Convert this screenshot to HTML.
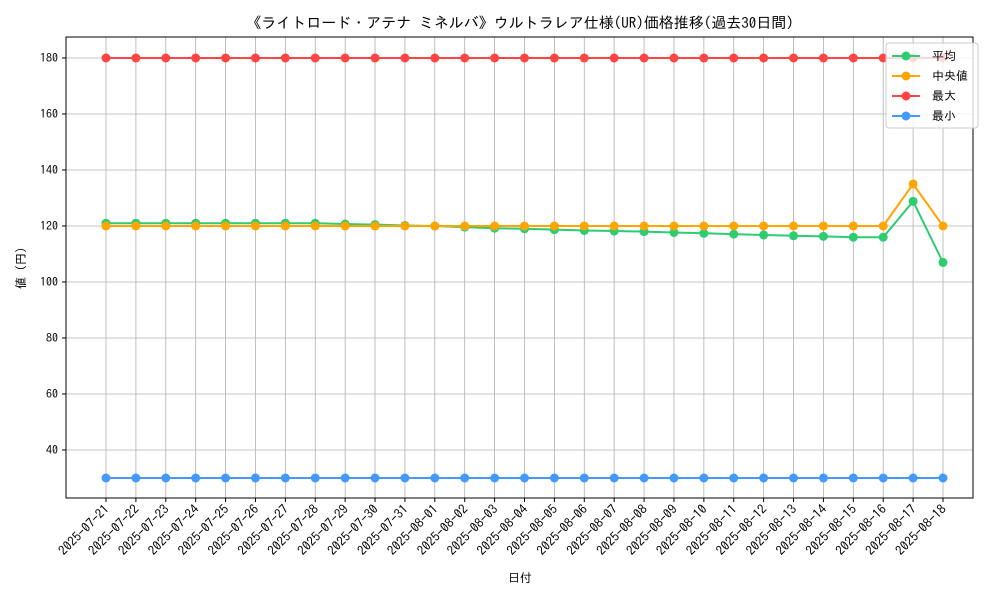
<!DOCTYPE html>
<html><head><meta charset="utf-8"><style>
body{margin:0;background:#fff;font-family:"IPAGothic","Noto Sans CJK JP",sans-serif;}
svg text{font-family:"IPAGothic","Noto Sans CJK JP",sans-serif;}
</style></head><body>
<svg id="chart" width="1000" height="600" xmlns="http://www.w3.org/2000/svg">
<rect width="1000" height="600" fill="#fff"/>
<text x="520" y="28" font-size="15" text-anchor="middle">《ライトロード・アテナ ミネルバ》ウルトラレア仕様(UR)価格推移(過去30日間)</text>
<g id="grid"></g>
<g id="series"></g>
<rect x="66" y="37" width="907" height="461" fill="none" stroke="#000" stroke-width="1"/>
<g id="axes"></g>
<text x="520" y="582" font-size="12" text-anchor="middle">日付</text>
<text x="25" y="268" font-size="12" text-anchor="middle" transform="rotate(-90 25 268)">値 (円)</text>
<g id="legend">
<rect x="886" y="43" width="92" height="85" rx="3" fill="#fff" fill-opacity="0.8" stroke="#ccc"/>
</g>
</svg>
<script>
const dates=["2025-07-21","2025-07-22","2025-07-23","2025-07-24","2025-07-25","2025-07-26","2025-07-27","2025-07-28","2025-07-29","2025-07-30","2025-07-31","2025-08-01","2025-08-02","2025-08-03","2025-08-04","2025-08-05","2025-08-06","2025-08-07","2025-08-08","2025-08-09","2025-08-10","2025-08-11","2025-08-12","2025-08-13","2025-08-14","2025-08-15","2025-08-16","2025-08-17","2025-08-18"];
const avgVals=[121,121,121,121,121,121,121,121,120.7,120.5,120.2,120,119.6,119.2,119,118.7,118.4,118.2,118,117.7,117.4,117.1,116.8,116.5,116.3,116,116,128.8,107];
const medVals=[120,120,120,120,120,120,120,120,120,120,120,120,120,120,120,120,120,120,120,120,120,120,120,120,120,120,120,135,120];
const maxVals=[180,180,180,180,180,180,180,180,180,180,180,180,180,180,180,180,180,180,180,180,180,180,180,180,180,180,180,180,180];
const minVals=[30,30,30,30,30,30,30,30,30,30,30,30,30,30,30,30,30,30,30,30,30,30,30,30,30,30,30,30,30];
const yTicks=[40,60,80,100,120,140,160,180];
const NS="http://www.w3.org/2000/svg";
const X=i=>106+i*(943-106)/(dates.length-1);
const Y=v=>450-(v-40)*2.8;
function mk(t,a,p){const e=document.createElementNS(NS,t);for(const k in a)e.setAttribute(k,a[k]);p.appendChild(e);return e;}
const grid=document.getElementById('grid'),axes=document.getElementById('axes'),ser=document.getElementById('series');
dates.forEach((d,i)=>{
 const g=mk('line',{x1:X(i),x2:X(i),y1:37,y2:498,stroke:'#b0b0b0','stroke-width':0.8},grid);
 
 
 mk('line',{x1:X(i),x2:X(i),y1:498,y2:502,stroke:'#000'},axes);
 const t=mk('text',{x:X(i)+4,y:510,'font-size':13,'text-anchor':'end',transform:`rotate(-45 ${X(i)+4} 510)`},axes);
 t.textContent=d;
 
 
});
yTicks.forEach(v=>{
 const g=mk('line',{x1:66,x2:973,y1:Y(v),y2:Y(v),stroke:'#b0b0b0','stroke-width':0.8},grid);
 
 
 mk('line',{x1:62,x2:66,y1:Y(v),y2:Y(v),stroke:'#000'},axes);
 const t=mk('text',{x:58,y:Y(v)+4,'font-size':12,'text-anchor':'end'},axes);
 t.textContent=v;
 
 
});
const series=[["平均",avgVals,"#2ecc71","series-average"],["中央値",medVals,"#ffa500","series-median"],["最大",maxVals,"#ff4444","series-max"],["最小",minVals,"#4499ff","series-min"]];
series.forEach(([n,vals,c,name])=>{
 const g=mk('g',{},ser);
 
 
 mk('polyline',{points:vals.map((v,i)=>X(i)+','+Y(v)).join(' '),fill:'none',stroke:c,'stroke-width':2},g);
 vals.forEach((v,i)=>{
  const p=mk('circle',{cx:X(i),cy:Y(v),r:4.5,fill:c},g);
  
  
 });
});
const leg=document.getElementById('legend');
series.forEach(([n,vals,c],k)=>{
 const y=56+k*20;
 const g=mk('g',{},leg);
 
 
 mk('line',{x1:892,x2:920,y1:y,y2:y,stroke:c,'stroke-width':2},g);
 mk('circle',{cx:906,cy:y,r:4.5,fill:c},g);
 const t=mk('text',{x:932,y:y+4,'font-size':12},g);
 t.textContent=n;
});
</script>
</body></html>
